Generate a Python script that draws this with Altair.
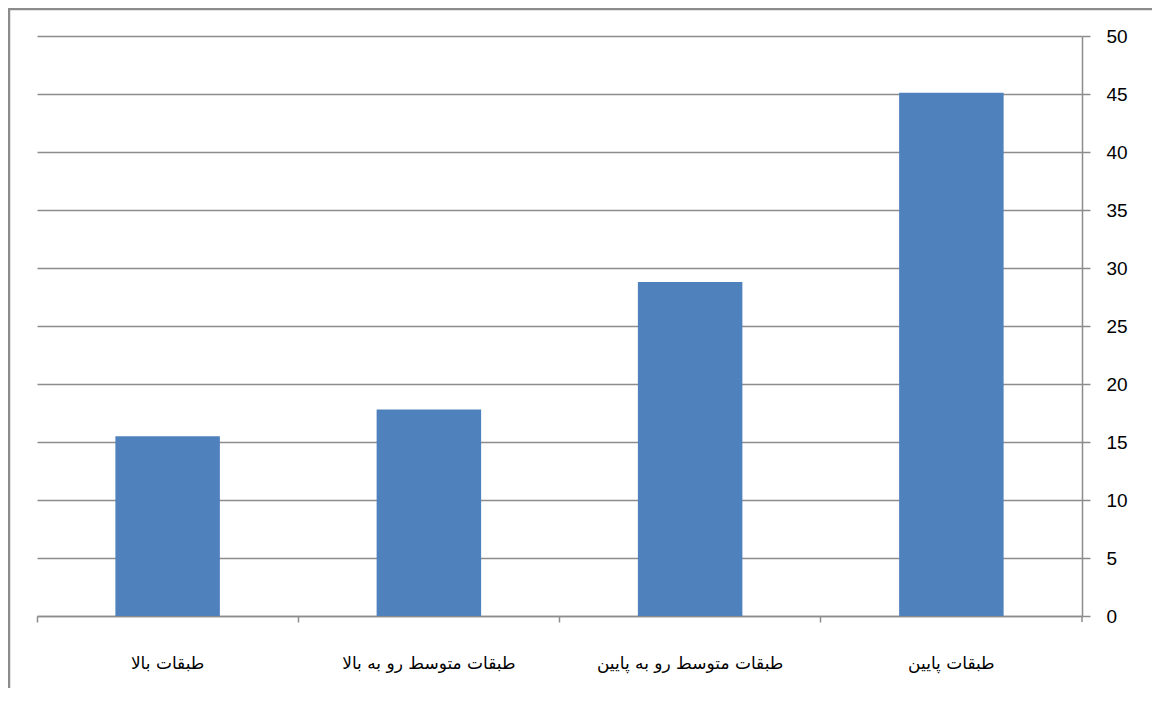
import altair as alt
import pandas as pd

categories = ["طبقات بالا", "طبقات متوسط رو به بالا", "طبقات متوسط رو به پایین", "طبقات پایین"]
values = [15.5, 17.8, 28.8, 45.1]
y_ticks = [0, 5, 10, 15, 20, 25, 30, 35, 40, 45, 50]

df = pd.DataFrame({"category": categories, "value": values})

W, H = 1045, 580
PAD = {"left": 29, "top": 28, "right": 70, "bottom": 72}
GRAY = "#8c8c8c"

bars = alt.Chart(df).mark_bar(color="#4F81BD").encode(
    x=alt.X(
        "category:N",
        sort=categories,
        scale=alt.Scale(paddingInner=0.6, paddingOuter=0.3),
        axis=alt.Axis(
            title=None, labelAngle=0, bandPosition=-0.75, domainColor=GRAY, domainWidth=1.5,
            tickColor=GRAY, tickWidth=1.5, tickSize=6, labelPadding=33,
            labelFont="DejaVu Sans", labelFontSize=17, labelColor="#000000",
            labelLimit=400, labelOverlap=False,
        ),
    ),
    y=alt.Y(
        "value:Q",
        scale=alt.Scale(domain=[0, 50], nice=False),
        axis=alt.Axis(
            title=None, orient="right", values=y_ticks, grid=True, gridColor=GRAY,
            gridWidth=1.5, domainColor=GRAY, domainWidth=1.5, tickColor=GRAY,
            tickWidth=1.5, tickSize=8, labelPadding=16, labelFont="Liberation Sans",
            labelFontSize=19, labelColor="#000000",
        ),
    ),
)

one = pd.DataFrame({"a": [0]})
right_edge = W + PAD["right"]
bottom_edge = H + PAD["bottom"]
frame_top = alt.Chart(one).mark_rule(color=GRAY, strokeWidth=2.5).encode(
    x=alt.value(-28), x2=alt.value(right_edge), y=alt.value(-27)
)
frame_left = alt.Chart(one).mark_rule(color=GRAY, strokeWidth=2.5).encode(
    x=alt.value(-28), y=alt.value(-28), y2=alt.value(bottom_edge)
)

end_tick = alt.Chart(one).mark_rule(color=GRAY, strokeWidth=1.5).encode(
    x=alt.value(W), y=alt.value(H), y2=alt.value(H + 6)
)

chart = alt.layer(frame_top, frame_left, bars, end_tick).properties(
    width=W, height=H,
    autosize=alt.AutoSizeParams(type="none"),
    padding=PAD,
).configure_view(strokeWidth=0)

chart.save("out.html", embed_options={"renderer": "svg", "actions": False})
